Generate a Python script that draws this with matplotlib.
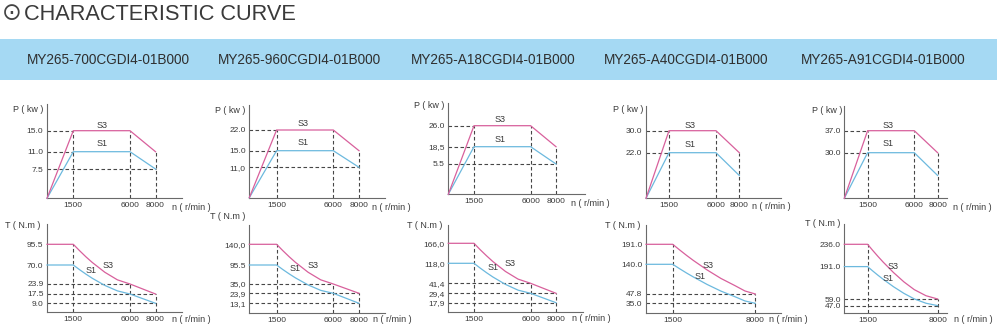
import numpy as np
import matplotlib
matplotlib.use("Agg")
import matplotlib.pyplot as plt
from matplotlib.patches import Rectangle

W, H = 1000, 334

# ---------------- data ----------------
models = ["MY265-700CGDI4-01B000", "MY265-960CGDI4-01B000", "MY265-A18CGDI4-01B000",
          "MY265-A40CGDI4-01B000", "MY265-A91CGDI4-01B000"]

speed_ticks = [1500, 6000, 8000]
speed_tick_labels = ["1500", "6000", "8000"]
speed_ticks_b = [1500, 8000]
speed_tick_labels_b = ["1500", "8000"]

p_speed = [0, 1500, 6000, 8000]

p_ticks_1 = [7.5, 11.0, 15.0]
p_labels_1 = ["7.5", "11.0", "15.0"]
p_s3_1 = [0, 15.0, 15.0, 11.0]
p_s1_1 = [0, 11.0, 11.0, 7.5]

p_ticks_2 = [11.0, 15.0, 22.0]
p_labels_2 = ["11,0", "15.0", "22.0"]
p_s3_2 = [0, 22.0, 22.0, 15.0]
p_s1_2 = [0, 15.0, 15.0, 11.0]

p_ticks_3 = [5.5, 18.5, 26.0]
p_labels_3 = ["5.5", "18,5", "26.0"]
p_s3_3 = [0, 26.0, 26.0, 18.5]
p_s1_3 = [0, 18.5, 18.5, 5.5]

p_ticks_4 = [22.0, 30.0]
p_labels_4 = ["22.0", "30.0"]
p_s3_4 = [0, 30.0, 30.0, 22.0]
p_s1_4 = [0, 22.0, 22.0, 11.0]

p_ticks_5 = [30.0, 37.0]
p_labels_5 = ["30.0", "37.0"]
p_s3_5 = [0, 37.0, 37.0, 30.0]
p_s1_5 = [0, 30.0, 30.0, 15.0]

t_speed_a = [0, 1500, 2000, 2500, 3000, 4000, 5000, 6000, 8000]
t_speed_b = [0, 1500, 2000, 2500, 3000, 4000, 5000, 6000, 7000, 8000]

t_ticks_1 = [9.0, 17.5, 23.9, 70.0, 95.5]
t_labels_1 = ["9.0", "17.5", "23.9", "70.0", "95.5"]
t_s3_1 = [95.5, 95.5, 87.6, 80.1, 73.2, 52.4, 34.0, 23.9, 17.5]
t_s1_1 = [70.0, 70.0, 58.6, 47.9, 37.9, 23.0, 19.5, 17.5, 9.0]

t_ticks_2 = [13.1, 23.9, 35.0, 95.5, 140.0]
t_labels_2 = ["13,1", "23,9", "35,0", "95.5", "140,0"]
t_s3_2 = [140.0, 140.0, 126.2, 113.2, 101.1, 72.4, 48.3, 35.0, 23.9]
t_s1_2 = [95.5, 95.5, 80.9, 67.2, 54.4, 33.9, 27.4, 23.9, 13.1]

t_ticks_3 = [17.9, 29.4, 41.4, 118.0, 166.0]
t_labels_3 = ["17,9", "29,4", "41,4", "118,0", "166,0"]
t_s3_3 = [166.0, 166.0, 150.4, 135.9, 122.2, 86.8, 57.5, 41.4, 29.4]
t_s1_3 = [118.0, 118.0, 99.4, 81.9, 65.6, 40.1, 33.2, 29.4, 17.9]

t_ticks_4 = [35.0, 47.8, 140.0, 191.0]
t_labels_4 = ["35.0", "47.8", "140.0", "191.0"]
t_s3_4 = [191.0, 191.0, 176.7, 162.9, 149.8, 122.4, 96.1, 74.2, 57.1, 47.8]
t_s1_4 = [140.0, 140.0, 126.3, 113.1, 100.7, 77.4, 56.8, 44.2, 38.2, 35.0]

t_ticks_5 = [47.0, 59.0, 191.0, 236.0]
t_labels_5 = ["47.0", "59.0", "191.0", "236.0"]
t_s3_5 = [236.0, 236.0, 223.5, 211.5, 200.1, 166.6, 128.7, 97.1, 72.4, 59.0]
t_s1_5 = [191.0, 191.0, 173.0, 155.7, 139.4, 108.9, 81.9, 59.3, 51.3, 47.0]

# guide lines (dashed): horizontal (value, end speed), vertical (speed, top value)
p_h = [[(15.0, 1500), (11.0, 1500), (7.5, 8000)],
       [(22.0, 1500), (15.0, 1500), (11.0, 8000)],
       [(26.0, 1500), (18.5, 1500), (5.5, 8000)],
       [(30.0, 1500), (22.0, 1500)],
       [(37.0, 1500), (30.0, 1500)]]
p_v = [[(1500, 15.0), (6000, 15.0), (8000, 11.0)],
       [(1500, 22.0), (6000, 22.0), (8000, 15.0)],
       [(1500, 26.0), (6000, 26.0), (8000, 18.5)],
       [(1500, 30.0), (6000, 30.0), (8000, 22.0)],
       [(1500, 37.0), (6000, 37.0), (8000, 30.0)]]
t_h = [[(23.9, 6000), (17.5, 8000), (9.0, 8000)],
       [(35.0, 6000), (23.9, 8000), (13.1, 8000)],
       [(41.4, 6000), (29.4, 8000), (17.9, 8000)],
       [(47.8, 8000), (35.0, 8000)],
       [(59.0, 8000), (47.0, 8000)]]
t_v = [[(1500, 95.5), (6000, 23.9), (8000, 17.5)],
       [(1500, 140.0), (6000, 35.0), (8000, 23.9)],
       [(1500, 166.0), (6000, 41.4), (8000, 29.4)],
       [(1500, 191.0), (8000, 47.8)],
       [(1500, 236.0), (8000, 59.0)]]

# ---------------- layout (pixels) ----------------
# axis x, axis bottom y, axis top y, axis right x
p_box = [(47, 198.3, 104, 182), (249.3, 197.7, 105, 385), (448.3, 194.3, 103.3, 585),
         (646, 198.3, 106, 780.7), (844.3, 198.3, 106, 946.7)]
t_box = [(47, 311.7, 224, 182), (249.3, 313.3, 225, 385), (448.3, 311.7, 225, 583.3),
         (646, 313.3, 225, 780.7), (844.3, 313.3, 224, 946.7)]
# pixel offsets of speed knots 0,1500,6000,8000
p_xk = [(0, 26.3, 83, 108.5), (0, 27.3, 84, 109.7), (0, 25.7, 82.3, 107.7),
        (0, 23, 70, 93.3), (0, 23.3, 70, 93.3)]
t_xk = [(0, 26.3, 83, 108.5), (0, 27.3, 84, 109.7), (0, 25.7, 82.3, 107.7),
        (0, 26.7, 88.7, 109.3), (0, 23.3, 70, 93.3)]
# pixel heights of the y tick levels
p_yk = [(29.3, 46.6, 67.6), (30.4, 47, 67.7), (30.3, 47.6, 68.6), (45.6, 67.6), (45.6, 67.6)]
t_yk = [(8.4, 17.7, 27.7, 46.7, 67.4), (10, 20, 29.3, 48.3, 69), (9, 18.4, 28.4, 48.4, 68.4),
        (10, 19.3, 49, 69), (7.7, 14.3, 46.7, 69)]

p_lab_pos = [((101.7, 125), (101.7, 143.3)), ((303.3, 123.3), (303.3, 142.7)),
             ((500, 120), (500, 140)), ((690, 125), (690, 144)), ((888.3, 125), (888.3, 143.3))]
t_lab_pos = [((108.3, 265), (91, 270.7)), ((312.7, 265), (295, 268.3)),
             ((510, 264), (493.3, 267.3)), ((708.3, 265.7), (700, 276.7)),
             ((893.3, 266.7), (888.3, 278.3))]
p_name_pos = [(28, 109.3), (230.5, 110.7), (429, 105.7), (628.3, 110), (827.2, 110.7)]
t_name_pos = [(23, 225), (228, 216.7), (424.7, 225), (623, 225), (823, 224)]
pn_pos = [(191, 207.3), (391, 207), (590, 203.3), (771.7, 206.7), (972.3, 207.3)]
tn_pos = [(191, 320), (392.7, 319.3), (591, 318.3), (788, 320), (973, 319.3)]
band_x = [108, 299, 493, 686, 883]

C_S3 = "#d8609c"
C_S1 = "#6cb9de"
C_DASH = "#474747"
C_AX = "#6a6a6a"
C_TXT = "#3a3a3a"
FONT = "Liberation Sans"

plt.rcParams["font.family"] = [FONT, "DejaVu Sans"]

fig = plt.figure(figsize=(W / 100, H / 100), dpi=100)


def ftext(x, y, s, **kw):
    fig.text(x / W, 1 - y / H, s, **kw)


def pw(kx, ky):
    kx = np.asarray(kx, float)
    ky = np.asarray(ky, float)
    s0 = (ky[1] - ky[0]) / (kx[1] - kx[0])
    s1 = (ky[-1] - ky[-2]) / (kx[-1] - kx[-2])

    def f(v):
        v = np.asarray(v, float)
        out = np.interp(v, kx, ky)
        out = np.where(v > kx[-1], ky[-1] + (v - kx[-1]) * s1, out)
        out = np.where(v < kx[0], ky[0] + (v - kx[0]) * s0, out)
        return out
    return f


def make_ax(box, xk, yvals, ylev):
    x0, yb, yt, xr = box
    ax = fig.add_axes([x0 / W, 1 - yb / H, (xr - x0) / W, (yb - yt) / H])
    ax.patch.set_alpha(0)
    kx = [0, 1500, 6000, 8000]
    fx, ix = pw(kx, xk), pw(xk, kx)
    ky = [0] + list(yvals)
    kl = [0] + list(ylev)
    fy, iy = pw(ky, kl), pw(kl, ky)
    ax.set_xscale("function", functions=(fx, ix))
    ax.set_yscale("function", functions=(fy, iy))
    ax.set_xlim(0, float(ix(xr - x0)))
    ax.set_ylim(0, float(iy(yb - yt)))
    for s in ("top", "right"):
        ax.spines[s].set_visible(False)
    for s in ("left", "bottom"):
        ax.spines[s].set_color(C_AX)
        ax.spines[s].set_linewidth(0.8)
    ax.tick_params(length=0, labelsize=6, labelcolor=C_TXT)
    ax.tick_params(axis="y", pad=2.6)
    ax.tick_params(axis="x", pad=3.0)
    ax.minorticks_off()
    return ax


def guides(ax, hs, vs):
    kw = dict(color=C_DASH, lw=0.8, ls=(0, (3.2, 2.2)), zorder=1, clip_on=False)
    for v, n in hs:
        ax.plot([0, n], [v, v], **kw)
    for n, v in vs:
        ax.plot([n, n], [0, v], **kw)


p_ticks = [p_ticks_1, p_ticks_2, p_ticks_3, p_ticks_4, p_ticks_5]
p_labels = [p_labels_1, p_labels_2, p_labels_3, p_labels_4, p_labels_5]
p_s3 = [p_s3_1, p_s3_2, p_s3_3, p_s3_4, p_s3_5]
p_s1 = [p_s1_1, p_s1_2, p_s1_3, p_s1_4, p_s1_5]
t_ticks = [t_ticks_1, t_ticks_2, t_ticks_3, t_ticks_4, t_ticks_5]
t_labels = [t_labels_1, t_labels_2, t_labels_3, t_labels_4, t_labels_5]
t_s3 = [t_s3_1, t_s3_2, t_s3_3, t_s3_4, t_s3_5]
t_s1 = [t_s1_1, t_s1_2, t_s1_3, t_s1_4, t_s1_5]
t_speeds = [t_speed_a, t_speed_a, t_speed_a, t_speed_b, t_speed_b]

for i in range(5):
    # power
    ax = make_ax(p_box[i], p_xk[i], p_ticks[i], p_yk[i])
    guides(ax, p_h[i], p_v[i])
    ax.plot(p_speed, p_s1[i], color=C_S1, lw=0.9, zorder=3, clip_on=False)
    ax.plot(p_speed, p_s3[i], color=C_S3, lw=0.9, zorder=3, clip_on=False)
    ax.set_yticks(p_ticks[i], p_labels[i])
    ax.set_xticks(speed_ticks, speed_tick_labels)
    # torque
    ax = make_ax(t_box[i], t_xk[i], t_ticks[i], t_yk[i])
    guides(ax, t_h[i], t_v[i])
    ax.plot(t_speeds[i], t_s1[i], color=C_S1, lw=0.9, zorder=3, clip_on=False)
    ax.plot(t_speeds[i], t_s3[i], color=C_S3, lw=0.9, zorder=3, clip_on=False)
    ax.set_yticks(t_ticks[i], t_labels[i])
    if i < 3:
        ax.set_xticks(speed_ticks, speed_tick_labels)
    else:
        ax.set_xticks(speed_ticks_b, speed_tick_labels_b)

    tk = dict(fontsize=6.5, color=C_TXT, ha="center", va="center")
    ftext(*p_lab_pos[i][0], "S3", **tk)
    ftext(*p_lab_pos[i][1], "S1", **tk)
    ftext(*t_lab_pos[i][0], "S3", **tk)
    ftext(*t_lab_pos[i][1], "S1", **tk)
    ftext(*p_name_pos[i], "P ( kw )", **tk)
    ftext(*t_name_pos[i], "T ( N.m )", **tk)
    ftext(*pn_pos[i], "n ( r/min )", **tk)
    ftext(*tn_pos[i], "n ( r/min )", **tk)

# header band
fig.patches.append(Rectangle((0, 1 - 80 / H), 997 / W, 41 / H, transform=fig.transFigure,
                             facecolor="#a5d9f3", edgecolor="none", zorder=0))
for x, m in zip(band_x, models):
    ftext(x, 60, m, fontsize=9.8, color="#2f2f2f", ha="center", va="center")

# title
ftext(1.5, 12.5, "\u2299", fontsize=17, color="#444444", ha="left", va="center",
      family="DejaVu Sans")
ftext(24, 19.5, "CHARACTERISTIC CURVE", fontsize=15.7, color="#3a3a3a",
      ha="left", va="baseline")

fig.savefig("out.png", dpi=100)
